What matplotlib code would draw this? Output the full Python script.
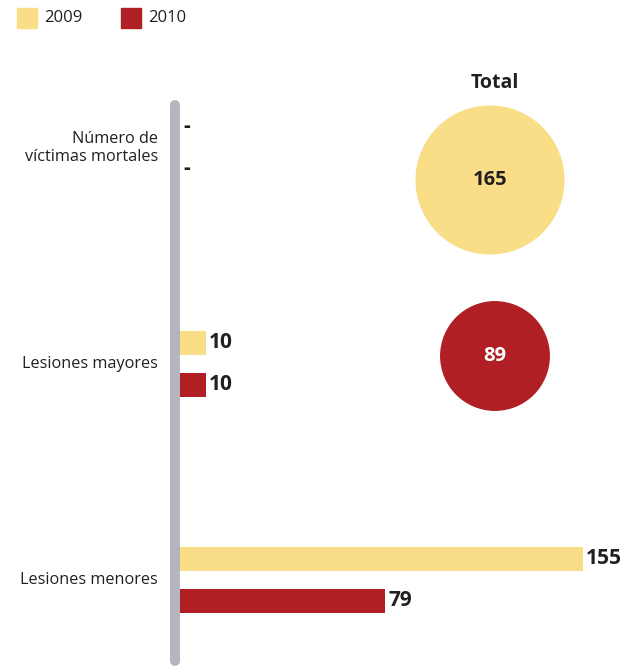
import matplotlib
matplotlib.use('Agg')
import matplotlib.pyplot as plt
from matplotlib.patches import Circle, Rectangle
import numpy as np

plt.rcParams['font.family'] = ['Open Sans', 'DejaVu Sans']

categories = ['Número de\nvíctimas mortales', 'Lesiones mayores', 'Lesiones menores']
series_names = ['2009', '2010']
values_2009 = [0, 10, 155]
values_2010 = [0, 10, 79]
totals = [165, 89]
colors = ['#F9DE87', '#B01F24']

W, H = 633, 666
fig = plt.figure(figsize=(W / 100, H / 100), dpi=100)

# capa de fondo en pixeles
bg = fig.add_axes([0, 0, 1, 1])
bg.set_xlim(0, W)
bg.set_ylim(H, 0)
bg.axis('off')

# barras: eje x en unidades, empieza en x=180 px
x0 = 180
px_per_unit = 2.6
ax = fig.add_axes([x0 / W, 0, 1 - x0 / W, 1])
ax.set_xlim(0, (W - x0) / px_per_unit)
ax.set_ylim(H, 0)
ax.axis('off')

centers = 148 + np.arange(len(categories)) * 216
offset = 21
bar_h = 24
for vals, col, sign in [(values_2009, colors[0], -1), (values_2010, colors[1], 1)]:
    ys = centers + sign * offset
    ax.barh(ys, vals, height=bar_h, color=col, zorder=2)
    for y, v in zip(ys, vals):
        lab = str(v) if v > 0 else '-'
        ax.text(v + 1.2, y, lab, ha='left', va='center', fontsize=15,
                fontweight='bold', color='#231F20')

# linea gris vertical
bg.plot([175, 175], [105, 661], color='#B3B7BD', lw=7.2,
        solid_capstyle='round', zorder=1)

# nombres de categorias
for c, name in zip(centers, categories):
    bg.text(158, c, name, ha='right', va='center', fontsize=11.7,
            color='#231F20', linespacing=1.1)

# leyenda
for i, (name, col) in enumerate(zip(series_names, colors)):
    lx = 17 + i * 104
    bg.add_patch(Rectangle((lx, 8), 20, 20, color=col))
    bg.text(lx + 27, 18, name, ha='left', va='center', fontsize=12,
            color='#231F20')

# totales como circulos
bg.text(495, 83, 'Total', ha='center', va='center', fontsize=14,
        fontweight='bold', color='#231F20')
k = 5.75
circle_centers = [(490, 180), (495, 356)]
text_colors = ['#231F20', 'white']
for (cx, cy), t, col, tc in zip(circle_centers, totals, colors, text_colors):
    bg.add_patch(Circle((cx, cy), k * np.sqrt(t), color=col))
    bg.text(cx, cy, str(t), ha='center', va='center', fontsize=14.5,
            fontweight='bold', color=tc)

fig.savefig('out.png', dpi=100)
